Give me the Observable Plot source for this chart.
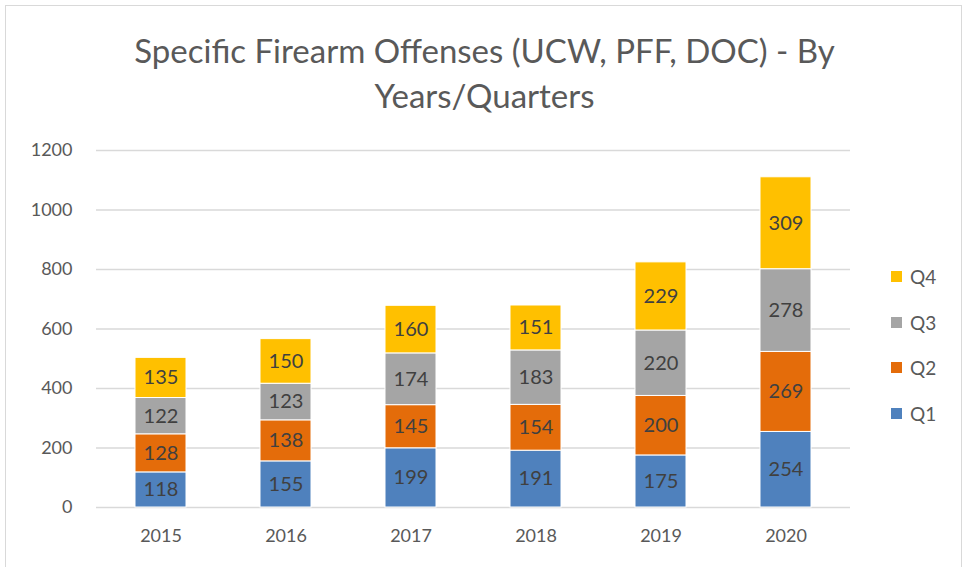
<!DOCTYPE html>
<html><head><meta charset="utf-8">
<script src="https://cdn.jsdelivr.net/npm/d3@7"></script>
<script src="https://cdn.jsdelivr.net/npm/@observablehq/plot@0.6"></script>
<style>
html,body{margin:0;padding:0;background:#fff;}
#wrap{position:relative;width:969px;height:567px;overflow:hidden;font-family:Lato,"Open Sans",sans-serif;}
#frame{position:absolute;left:5px;top:5px;width:957px;height:570px;border:1px solid #d9d9d9;box-sizing:border-box;}
#title{position:absolute;left:0;width:969px;top:28px;text-align:center;font-size:33px;line-height:45px;color:#595959;}
#chart{position:absolute;left:0;top:0;}
#legend{position:absolute;left:891px;top:254px;}
.li{display:flex;align-items:center;height:45.5px;font-size:19px;color:#595959;}
.sw{width:11px;height:11px;margin-right:8px;}
</style></head>
<body>
<div id="wrap">
<div id="frame"></div>
<div id="chart"></div>
<div id="title">Specific Firearm Offenses (UCW, PFF, DOC) - By<br>Years/Quarters</div>
<div id="legend"></div>
</div>
<script>
const years = ["2015","2016","2017","2018","2019","2020"];
const quarters = ["Q1","Q2","Q3","Q4"];
const q1 = [118,155,199,191,175,254];
const q2 = [128,138,145,154,200,269];
const q3 = [122,123,174,183,220,278];
const q4 = [135,150,160,151,229,309];
const colors = ["#4f81bd","#e46c0a","#a5a5a5","#ffc000"];
const yTicks = [0,200,400,600,800,1000,1200];

const series = [q1,q2,q3,q4];
const data = [];
quarters.forEach((q,i)=>years.forEach((y,j)=>data.push({year:y,q,value:series[i][j]})));

const chart = Plot.plot({
  width:969, height:567,
  marginLeft:96, marginRight:119, marginTop:150, marginBottom:60,
  style:{fontFamily:"Lato, 'Open Sans', sans-serif", color:"#595959", background:"transparent"},
  x:{domain:years, paddingInner:0.59, paddingOuter:0.295, label:null},
  y:{domain:[0,1200], ticks:yTicks, label:null},
  color:{domain:quarters, range:colors},
  marks:[
    Plot.gridY(yTicks,{stroke:"#d9d9d9", strokeOpacity:1, strokeWidth:1.5}),
    Plot.axisX({fontSize:18, tickSize:0, tickPadding:22, label:null}),
    Plot.axisY({ticks:yTicks, tickFormat:d3.format("d"), fontSize:18, tickSize:0, tickPadding:24, label:null}),
    Plot.barY(data, Plot.stackY({x:"year", y:"value", z:"q", fill:"q", stroke:"white", strokeWidth:1})),
    Plot.text(data, Plot.stackY({x:"year", y:"value", z:"q", text:"value", fill:"#404040", fontSize:20}))
  ]
});
document.getElementById("chart").appendChild(chart);

const lg = document.getElementById("legend");
[...quarters].reverse().forEach(q=>{
  const i = quarters.indexOf(q);
  const d = document.createElement("div"); d.className="li";
  d.innerHTML = `<span class="sw" style="background:${colors[i]}"></span>${q}`;
  lg.appendChild(d);
});
</script>
</body></html>
